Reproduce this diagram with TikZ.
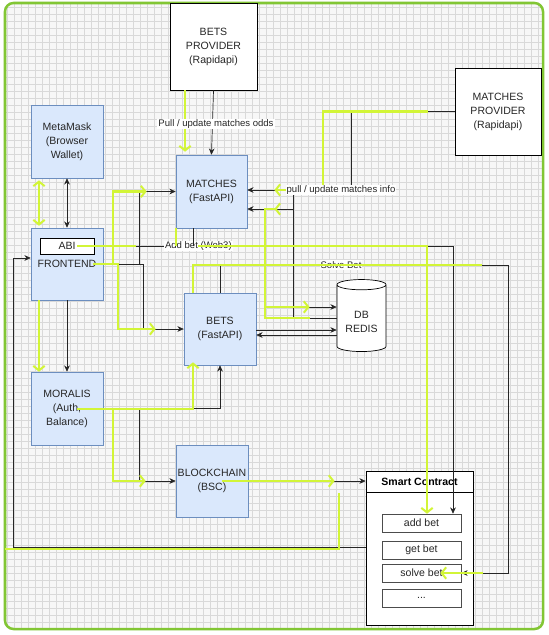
\documentclass[tikz,border=0pt]{standalone}
\usepackage{fontspec}
\setmainfont{Liberation Sans}
\usetikzlibrary{arrows.meta,shapes.geometric}

\definecolor{hlgreen}{RGB}{210,245,55}
\definecolor{framegreen}{RGB}{130,198,52}
\definecolor{boxfill}{HTML}{DAE8FC}
\definecolor{boxline}{HTML}{6C8EBF}

\newcommand{\pxu}{0.035cm}
\newcommand{\boxfont}{\fontsize{10.5}{13.9}\selectfont}

\tikzset{
  svc/.style={draw=boxline, fill=boxfill, line width=0.6pt, align=center, inner sep=1pt,
    minimum width=72*\pxu, minimum height=73*\pxu, text=black!85, font=\boxfont},
  ext/.style={draw=black, fill=white, line width=0.8pt, align=center,
    minimum width=87*\pxu, minimum height=87*\pxu, text=black!85, font=\boxfont},
  fnbox/.style={draw=black!70, fill=white, line width=0.6pt, inner sep=0pt,
    minimum width=79*\pxu, minimum height=18*\pxu, text=black!85, font=\boxfont},
  lbl/.style={fill=white, inner sep=1pt, text=black!85, font=\fontsize{9.5}{11}\selectfont},
  wire/.style={draw=black!85, line width=0.7pt},
  fwd/.style={-{Stealth[length=2.2mm,width=2mm]}},
  twoway/.style={{Stealth[length=2.2mm,width=2mm]}-{Stealth[length=2.2mm,width=2mm]}},
  hl/.style={draw=hlgreen, line width=2pt},
  hfwd/.style={-{Straight Barb[length=1.6mm,width=4mm]}},
  htwoway/.style={{Straight Barb[length=1.6mm,width=4mm]}-{Straight Barb[length=1.6mm,width=4mm]}},
}

\begin{document}
\begin{tikzpicture}[x=\pxu, y=-\pxu]
  % Фон
  \useasboundingbox (0,0) rectangle (548,635);
  \fill[white] (0,0) rectangle (548,635);
  \begin{scope}
    \clip[rounded corners=0.3cm] (5,3) rectangle (543,629);
    \fill[gray!6] (0,0) rectangle (548,635);
    \draw[gray!30, line width=0.9pt, xstep=0.245cm, ystep=0.245cm] (0,0) grid (548,635);
  \end{scope}
  \draw[framegreen, line width=2.5pt, rounded corners=0.3cm] (5,3) rectangle (543,629);

  % Узлы
  \node[ext] (betsprov) at (213.5,46.5) {BETS\\PROVIDER\\(Rapidapi)};
  \node[ext, minimum width=86*\pxu] (matchprov) at (498,111.5) {MATCHES\\PROVIDER\\(Rapidapi)};
  \node[svc] (metamask) at (67,141.5) {MetaMask\\(Browser\\Wallet)};
  \node[svc, minimum width=71*\pxu] (matches) at (211.5,191.5) {MATCHES\\(FastAPI)};
  \node[svc, minimum height=72*\pxu] (frontend) at (67,264) {FRONTEND};
  \node[draw=black, fill=white, line width=0.8pt, inner sep=0pt, minimum width=54*\pxu,
    minimum height=16*\pxu, text=black!85, font=\boxfont] (abi) at (67,246) {ABI};
  \node[svc, minimum height=72*\pxu] (bets) at (220,329) {BETS\\(FastAPI)};
  \node[cylinder, shape border rotate=90, aspect=0.3, draw=black, fill=white, line width=0.7pt,
    minimum width=49*\pxu, minimum height=72*\pxu, align=center, inner sep=1pt,
    text=black!85, font=\boxfont] (db) at (361.5,319) {\mbox{}\\DB\\REDIS};
  \node[svc] (moralis) at (67,408.5) {MORALIS\\(Auth,\\Balance)};
  \node[svc, minimum height=72*\pxu] (chain) at (212,481) {BLOCKCHAIN\\(BSC)};

  % Smart Contract
  \node[draw=black, fill=white, line width=0.7pt, minimum width=107*\pxu, minimum height=154*\pxu] (sc) at (419.5,548) {};
  \node[draw=black, fill=white, line width=0.7pt, minimum width=107*\pxu, minimum height=21*\pxu,
    inner sep=0pt, font=\fontsize{10.5}{12}\selectfont\bfseries] (schead) at (419.5,481.5) {Smart Contract};
  \node[fnbox] (addbet) at (421.5,523) {add bet};
  \node[fnbox] (getbet) at (421.5,550) {get bet};
  \node[fnbox] (solvebet) at (421.5,573) {solve bet};
  \node[fnbox] (more) at (421.5,598) {...};

  % Черные связи
  \draw[wire, twoway] (metamask.south) -- (frontend.north);
  \draw[wire, fwd] (frontend.south) -- (moralis.north);
  \draw[wire, fwd] (betsprov.south) -- (matches.north);
  \draw[wire, fwd] (frontend.east) -| (139,191.5) -- (matches.west);
  \draw[wire, fwd] (frontend.east) -| (143,329) -- (bets.west);
  \draw[wire, fwd] (abi.east) -- node[lbl, pos=0.29] (addlbl) {Add bet (Web3)} (abi.east -| 453,0) -- (addbet.north -| 453,0);
  \draw[wire] (matches.south -| 193,0) -- (abi.east -| 193,0);
  \draw[wire, fwd] (bets.north) |- (508,265) |- (solvebet.east);
  \node[lbl] (solvelbl) at (341,265) {Solve Bet};
  \draw[wire, fwd] (matchprov.west) -| (351,190) -- (matches.east |- 0,190);
  \draw[wire, fwd] (db.180 |- 0,318) -| (293,209) -- (matches.east |- 0,209);
  \draw[wire, fwd] (293,190) |- (db.180 |- 0,307);
  \draw[wire, fwd] (bets.east |- 0,330) -- (db.180 |- 0,330);
  \draw[wire, fwd] (db.180 |- 0,335) -- (bets.east |- 0,335);
  \draw[wire, fwd] (moralis.east) -| (bets.south);
  \draw[wire, fwd] (moralis.east) -| (139,481) -- (chain.west);
  \draw[wire, fwd] (chain.east) -- (schead.west |- chain.east);
  \draw[wire, fwd] (sc.west |- 0,547) -| (13,258) -- (frontend.west |- 0,258);

  % Зеленые линии
  \draw[hl, hfwd, shorten >=3*\pxu] (betsprov.south -| 185,0) -- (matches.north -| 185,0);
  \draw[hl, htwoway, shorten <=2*\pxu, shorten >=2*\pxu] (metamask.south -| 39,0) -- (frontend.north -| 39,0);
  \draw[hl, hfwd] (frontend.south -| 39,0) -- (moralis.north -| 39,0);
  \draw[hl, hfwd, shorten <=-10*\pxu, shorten >=29*\pxu] (frontend.east) -| (113,191.5) -- (matches.west);
  \draw[hl, hfwd, shorten <=-10*\pxu, shorten >=28*\pxu] (frontend.east) -| (118,329) -- (bets.west);
  \draw[hl, shorten <=-17*\pxu] (abi.east) -- (136,246);
  \draw[hl, hfwd] (addlbl.center) -| (addbet.north -| 427,0);
  \draw[hl] (matches.south -| 176,0) -- (abi.east -| 176,0);
  \draw[hl] (bets.north -| 193,0) |- (482,265);
  \draw[hl, hfwd] ([xshift=22*\pxu]solvebet.east) -- ([xshift=-21*\pxu]solvebet.east);
  \draw[hl, hfwd, shorten <=27*\pxu, shorten >=27*\pxu] (matchprov.west) -| (323,190) -- (matches.east |- 0,190);
  \draw[hl, hfwd, shorten <=27*\pxu, shorten >=27*\pxu] (db.180 |- 0,318) -| (265,209) -- (matches.east |- 0,209);
  \draw[hl, hfwd, shorten >=27*\pxu] (265,307) -- (db.180 |- 0,307);
  \draw[hl, hfwd, shorten <=-26*\pxu, shorten >=-3*\pxu] (moralis.east) -| (bets.south -| 193,0);
  \draw[hl, hfwd, shorten >=30*\pxu] (moralis.east -| 113,0) |- (chain.west);
  \draw[hl, hfwd, shorten <=-26*\pxu, shorten >=31*\pxu] (chain.east) -- (schead.west |- chain.east);
  \draw[hl] (339,493) |- (5,549);

  % Подписи
  \node[lbl] (oddslbl) at (216,124) {Pull / update matches odds};
  \node[lbl] (infolbl) at (341,190) {pull / update matches info};
\end{tikzpicture}
\end{document}
